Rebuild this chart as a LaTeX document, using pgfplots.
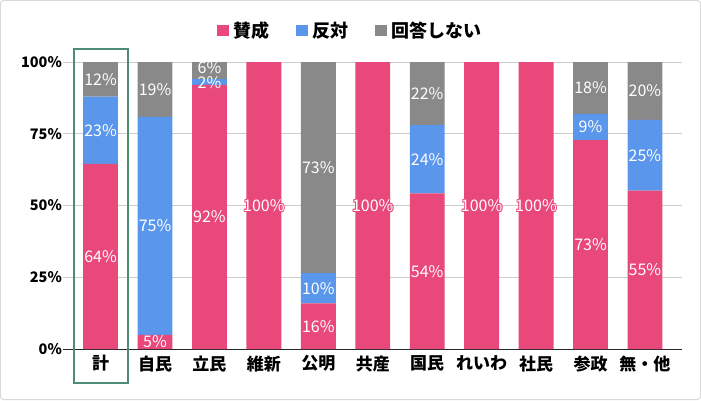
\documentclass[border=0pt]{standalone}
\usepackage{pgfplots}
\pgfplotsset{compat=1.18}
\usepackage{pgfplotstable}
\usepackage{fontspec}
\setmainfont{Noto Sans CJK JP}
\definecolor{cyes}{HTML}{E8487A}
\definecolor{cno}{HTML}{5A96EC}
\definecolor{cna}{HTML}{898989}
\definecolor{cbox}{HTML}{4F8C77}
\definecolor{cframe}{HTML}{D9D9D9}
\definecolor{cgrid}{HTML}{CCCCCC}

\newcommand\hcopy[3]{\rlap{\kern#1\raisebox{#2}{\textcolor{cyes}{#3}}}}
\newcommand\halo[1]{\leavevmode
  \hcopy{0.9pt}{0pt}{#1}\hcopy{-0.9pt}{0pt}{#1}%
  \hcopy{0pt}{0.9pt}{#1}\hcopy{0pt}{-0.9pt}{#1}%
  \hcopy{0.65pt}{0.65pt}{#1}\hcopy{-0.65pt}{0.65pt}{#1}%
  \hcopy{0.65pt}{-0.65pt}{#1}\hcopy{-0.65pt}{-0.65pt}{#1}%
  \textcolor{white}{#1}}

\pgfplotstableread{
x yes no na
0 64.5 23.4 12.1
1 4.9 76.0 19.1
2 92.0 2.0 6.0
3 100 0 0
4 15.9 10.5 73.6
5 100 0 0
6 54.2 23.8 22.0
7 100 0 0
8 100 0 0
9 72.8 9.1 18.1
10 55.2 24.6 20.2
}\data

\pgfplotstableread{
x y lab
0 32.25 64
0 76.2 23
0 94.0 12
1 2.45 5
1 42.9 75
1 90.45 19
2 46.0 92
2 92.8 2
2 97.9 6
4 7.95 16
4 21.15 10
4 63.2 73
6 27.1 54
6 66.1 24
6 89.0 22
9 36.4 73
9 77.35 9
9 90.95 18
10 27.6 55
10 67.5 25
10 89.9 20
}\labels

\pgfplotstableread{
x y lab
3 50 100
5 50 100
7 50 100
8 50 100
}\fulllabels

\begin{document}
\begin{tikzpicture}
\begin{axis}[
  at={(0,0)}, anchor=south west,
  scale only axis,
  width=619pt, height=287pt,
  stack plots=y,
  xmin=-0.69, xmax=10.68,
  ymin=0, ymax=100,
  clip=false,
  axis line style={draw=none},
  major tick length=0pt,
  ytick={25,50,75,100},
  yticklabels={25\%,50\%,75\%,100\%},
  extra y ticks={0},
  extra y tick labels={0\%},
  extra y tick style={grid style={draw=black!85, line width=1pt}},
  ymajorgrids,
  grid style={draw=cgrid, line width=0.8pt},
  yticklabel style={font=\fontsize{14.5}{16}\selectfont\bfseries, inner sep=0pt, xshift=-1pt},
  xtick={0,...,10},
  xticklabels={計,自民,立民,維新,公明,共産,国民,れいわ,社民,参政,無・他},
  xticklabel style={font=\fontsize{17}{19}\selectfont\bfseries, yshift=-3pt},
  legend columns=3,
  legend style={draw=none, fill=none, at={(0.464,1.111)}, anchor=center,
    font=\fontsize{18}{20}\selectfont\bfseries,
    /tikz/every even column/.append style={column sep=24pt},
    /tikz/every odd column/.append style={column sep=3pt}},
  legend image code/.code={\fill[#1] (0pt,-5.5pt) rectangle (12pt,5.5pt);},
]
\addplot[ybar, bar width=0.64, fill=cyes, draw=none] table[x=x, y=yes] {\data};
\addplot[ybar, bar width=0.64, fill=cno, draw=none] table[x=x, y=no] {\data};
\addplot[ybar, bar width=0.64, fill=cna, draw=none] table[x=x, y=na] {\data};
\legend{賛成,反対,回答しない}
\addplot[stack plots=false, draw=none, mark=none, forget plot,
  point meta=explicit symbolic,
  nodes near coords={\halo{\pgfplotspointmeta\%}},
  every node near coord/.append style={font=\fontsize{16}{18}\selectfont, anchor=center, inner sep=0pt}]
  table[x=x, y=y, meta=lab] {\fulllabels};
\addplot[stack plots=false, draw=none, mark=none, forget plot,
  point meta=explicit symbolic,
  nodes near coords={\pgfplotspointmeta\%},
  every node near coord/.append style={text=white, font=\fontsize{16}{18}\selectfont, anchor=center, inner sep=0pt}]
  table[x=x, y=y, meta=lab] {\labels};
\draw[cbox, line width=2.6pt] (axis cs:-0.487,-11.85) rectangle (axis cs:0.505,104.5);
\end{axis}
\draw[cframe, line width=1pt, rounded corners=3pt] (-62.5pt,-50.5pt) rectangle (637.5pt,348.5pt);
\end{tikzpicture}
\end{document}
